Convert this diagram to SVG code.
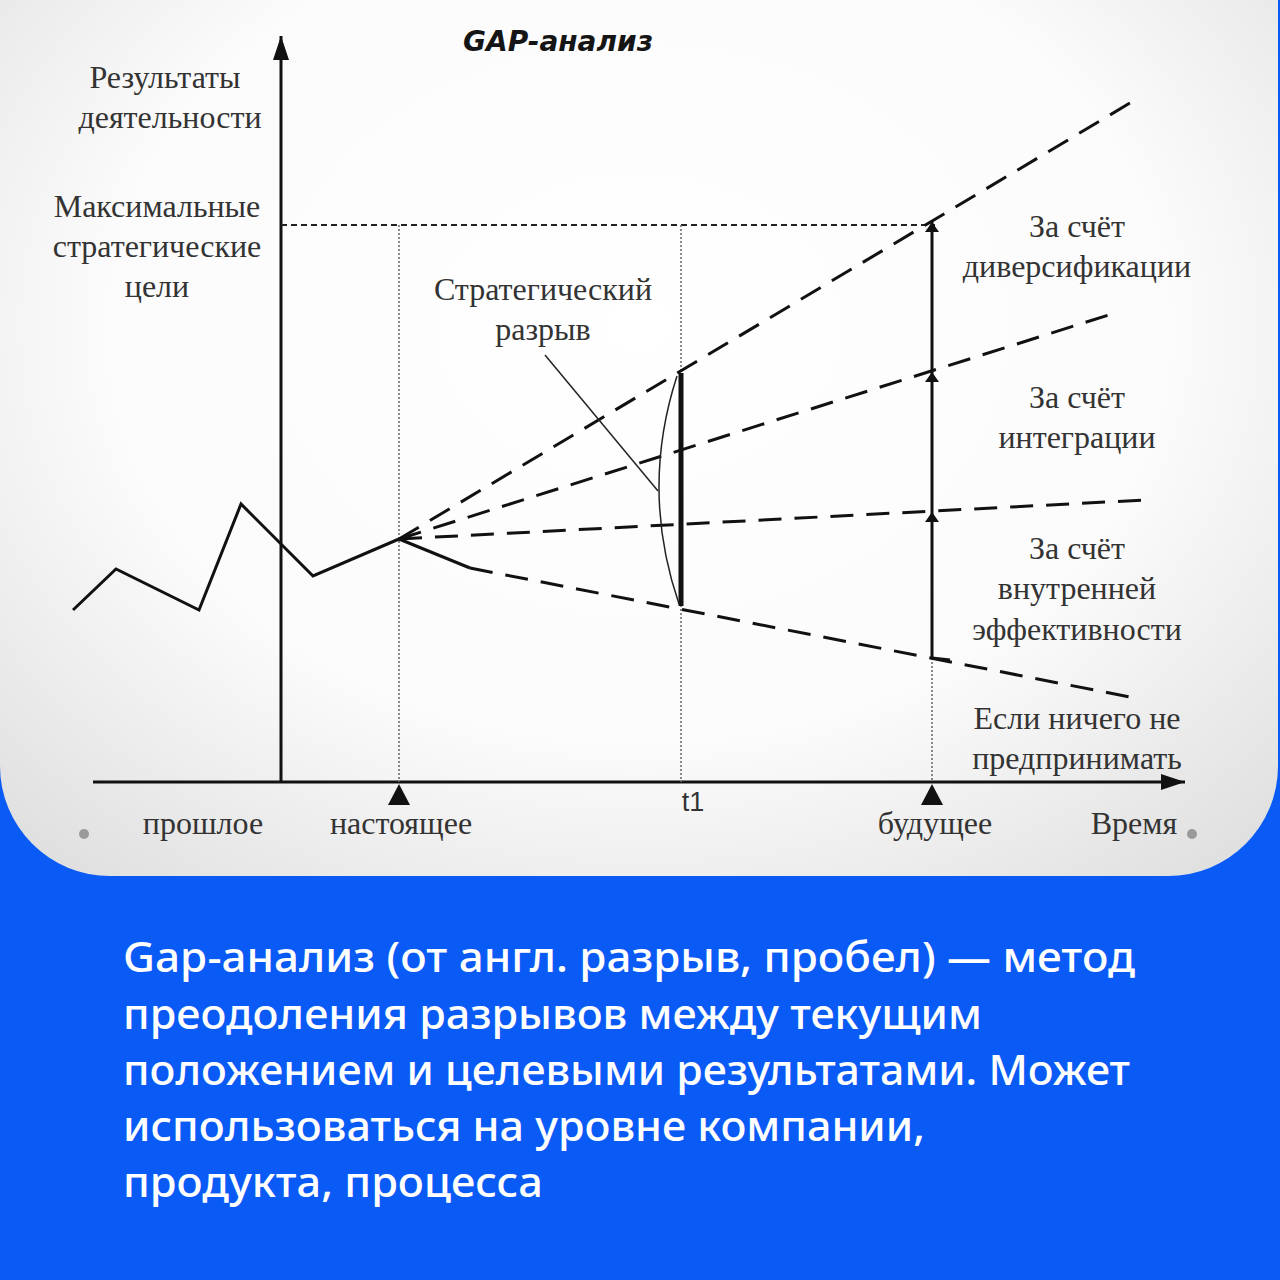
<svg xmlns="http://www.w3.org/2000/svg" width="1280" height="1280" viewBox="0 0 1280 1280">
<defs>
<radialGradient id="pg" cx="0.5" cy="0.45" r="0.7">
<stop offset="0" stop-color="#ffffff"/>
<stop offset="0.6" stop-color="#fbfbfb"/>
<stop offset="1" stop-color="#e0e0e0"/>
</radialGradient>
<marker id="ah" viewBox="0 0 10 20" refX="10" refY="10" markerWidth="10" markerHeight="20" markerUnits="userSpaceOnUse" orient="auto">
<path d="M0,3 L10,10 L0,17 Z" fill="#111"/>
</marker>
<marker id="axh" viewBox="0 0 24 20" refX="24" refY="10" markerWidth="24" markerHeight="20" markerUnits="userSpaceOnUse" orient="auto">
<path d="M0,2 L24,10 L0,18 Z" fill="#111"/>
</marker>
<style>
.lbl{font-family:"Liberation Serif","Times New Roman",serif;font-size:32px;fill:#333;text-anchor:middle}
.dash{fill:none;stroke:#111;stroke-width:3;stroke-dasharray:23 13}
.dot{fill:none;stroke:#666;stroke-width:1.5;stroke-dasharray:2 2}
.solid{fill:none;stroke:#111;stroke-width:3;stroke-linejoin:miter}
.thin{fill:none;stroke:#222;stroke-width:1.5}
.body{font-family:"Noto Sans","Liberation Sans",sans-serif;font-size:41px;font-weight:500;fill:#ffffff}
</style>
</defs>
<rect x="0" y="0" width="1280" height="1280" fill="#0a5af6"/>
<rect id="panel" x="0" y="-120" width="1278" height="996" rx="110" ry="110" fill="url(#pg)"/>

<text x="558" y="51" style="font-family:'DejaVu Sans','Open Sans',sans-serif;font-size:28px;font-weight:700;font-style:italic;fill:#151515;text-anchor:middle">GAP-анализ</text>

<g id="connectors">
<line x1="281" y1="782" x2="281" y2="36" class="solid" marker-end="url(#axh)"/>
<line x1="93" y1="782" x2="1185" y2="782" class="solid" marker-end="url(#axh)"/>
<line x1="281" y1="225" x2="935" y2="225" style="fill:none;stroke:#222;stroke-width:1.8;stroke-dasharray:6 4"/>
<line x1="399" y1="225" x2="399" y2="782" class="dot"/>
<line x1="681" y1="225" x2="681" y2="782" class="dot"/>
<line x1="932" y1="658" x2="932" y2="782" class="dot"/>
<polyline points="73,610 116,569 199,610 241,504 313,576 399,539" class="solid"/>
<line x1="399" y1="539" x2="1135" y2="100" class="dash"/>
<line x1="399" y1="539" x2="1115" y2="313" class="dash"/>
<line x1="399" y1="539" x2="1145" y2="500" class="dash"/>
<line x1="399" y1="539" x2="470" y2="568" class="solid"/>
<line x1="470" y1="568" x2="1130" y2="697" class="dash"/>
<line x1="681" y1="373" x2="681" y2="606" style="stroke:#111;stroke-width:5"/>
<path d="M677,376 Q640,490 679,604" class="thin"/>
<line x1="545" y1="355" x2="658" y2="491" class="thin"/>
<line x1="932" y1="658" x2="932" y2="512" class="solid" marker-end="url(#ah)"/>
<line x1="932" y1="512" x2="932" y2="372" class="solid" marker-end="url(#ah)"/>
<line x1="932" y1="372" x2="932" y2="222" class="solid" marker-end="url(#ah)"/>
<line x1="932" y1="658" x2="950" y2="660" class="solid"/>
<path d="M399,784 L410,805 L388,805 Z" fill="#111"/>
<path d="M932,784 L943,805 L921,805 Z" fill="#111"/>
</g>

<g id="y-label"><text class="lbl" x="165" y="88">Результаты</text><text class="lbl" x="170" y="128">деятельности</text></g>
<g id="max-goals"><text class="lbl" x="157" y="217">Максимальные</text><text class="lbl" x="157" y="257">стратегические</text><text class="lbl" x="157" y="297">цели</text></g>
<g id="gap-label"><text class="lbl" x="543" y="300">Стратегический</text><text class="lbl" x="543" y="340">разрыв</text></g>
<g id="diversification"><text class="lbl" x="1077" y="237">За счёт</text><text class="lbl" x="1077" y="277">диверсификации</text></g>
<g id="integration"><text class="lbl" x="1077" y="408">За счёт</text><text class="lbl" x="1077" y="448">интеграции</text></g>
<g id="efficiency"><text class="lbl" x="1077" y="559">За счёт</text><text class="lbl" x="1077" y="599">внутренней</text><text class="lbl" x="1077" y="640">эффективности</text></g>
<g id="nothing"><text class="lbl" x="1077" y="729">Если ничего не</text><text class="lbl" x="1077" y="769">предпринимать</text></g>
<g id="time-labels">
<text class="lbl" x="203" y="834">прошлое</text>
<text class="lbl" x="401" y="834">настоящее</text>
<text x="693" y="811" style="font-family:'Liberation Sans',Arial,sans-serif;font-size:27px;fill:#333;text-anchor:middle">t1</text>
<text class="lbl" x="935" y="834">будущее</text>
<text class="lbl" x="1134" y="834">Время</text>
</g>
<circle cx="84" cy="834" r="5" fill="#9a9a9a"/>
<circle cx="1192" cy="834" r="5" fill="#9a9a9a"/>

<g id="description">
<text class="body" x="123" y="972" textLength="1012" lengthAdjust="spacingAndGlyphs">Gap-анализ (от англ. разрыв, пробел) — метод</text>
<text class="body" x="123" y="1029" textLength="859" lengthAdjust="spacingAndGlyphs">преодоления разрывов между текущим</text>
<text class="body" x="123" y="1085" textLength="1007" lengthAdjust="spacingAndGlyphs">положением и целевыми результатами. Может</text>
<text class="body" x="123" y="1141" textLength="802" lengthAdjust="spacingAndGlyphs">использоваться на уровне компании,</text>
<text class="body" x="123" y="1197" textLength="420" lengthAdjust="spacingAndGlyphs">продукта, процесса</text>
</g>
</svg>
